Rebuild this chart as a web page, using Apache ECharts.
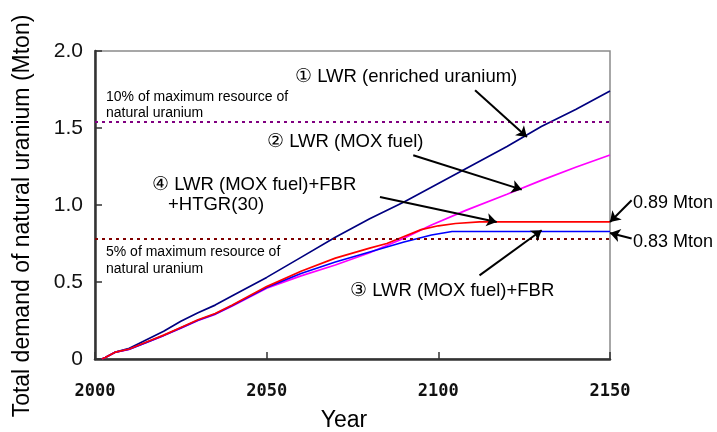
<!DOCTYPE html>
<html><head><meta charset="utf-8">
<script src="https://cdn.jsdelivr.net/npm/echarts@6/dist/echarts.min.js"></script>
<style>html,body{margin:0;padding:0;background:#fff}#c{width:717px;height:432px}</style>
</head><body><div id="c"></div>
<script>
// ---- data ----
const xTicks = [2000, 2050, 2100, 2150];
const yTicks = [0, 0.5, 1.0, 1.5, 2.0];

const enrichedYears = [2002,2003,2006,2010,2015,2020,2025,2030,2035,2040,2050,2060,2070,2080,2090,2100,2110,2120,2130,2140,2150];
const enrichedVals  = [0,0.01,0.045,0.07,0.125,0.18,0.245,0.30,0.35,0.41,0.53,0.66,0.79,0.91,1.02,1.14,1.26,1.38,1.51,1.62,1.74];

const moxYears = [2002,2003,2006,2010,2015,2020,2025,2030,2035,2040,2050,2060,2070,2080,2090,2098,2108,2120,2130,2140,2150];
const moxVals  = [0,0.01,0.045,0.063,0.107,0.152,0.2,0.25,0.29,0.345,0.46,0.54,0.61,0.69,0.785,0.87,0.965,1.07,1.16,1.245,1.325];

const fbrYears = [2002,2003,2006,2010,2015,2020,2025,2030,2035,2040,2050,2060,2070,2080,2090,2098,2104,2150];
const fbrVals  = [0,0.01,0.045,0.064,0.108,0.153,0.202,0.252,0.292,0.347,0.465,0.555,0.63,0.695,0.76,0.805,0.828,0.828];

const htgrYears = [2002,2003,2006,2010,2015,2020,2025,2030,2035,2040,2050,2060,2070,2080,2085,2090,2095,2100,2105,2112,2150];
const htgrVals  = [0,0.01,0.045,0.065,0.11,0.155,0.205,0.255,0.295,0.35,0.47,0.57,0.655,0.72,0.75,0.795,0.84,0.865,0.88,0.89,0.89];

const limit10 = 1.54;
const limit5 = 0.775;

// annotation arrows: [fromYear, fromVal, toYear, toVal]
const arrows = [
  [2110.7, 1.745, 2125.8, 1.442],
  [2092.7, 1.323, 2124.3, 1.100],
  [2083.0, 1.052, 2117.0, 0.890],
  [2112.0, 0.543, 2130.1, 0.836],
  [2156.3, 1.031, 2150.0, 0.890],
  [2156.3, 0.782, 2150.0, 0.818]
];

const labels = {
  s1: '\u2460 LWR (enriched uranium)',
  s2: '\u2461 LWR (MOX fuel)',
  s3: '\u2462 LWR (MOX fuel)+FBR',
  s4a: '\u2463 LWR (MOX fuel)+FBR',
  s4b: '+HTGR(30)',
  m89: '0.89 Mton',
  m83: '0.83 Mton',
  l10a: '10% of maximum resource of',
  l10b: 'natural uranium',
  l5a: '5% of maximum resource of',
  l5b: 'natural uranium',
  xName: 'Year',
  yName: 'Total demand of natural uranium (Mton)'
};

const pairs = (xs, ys) => xs.map((x, i) => [x, ys[i]]);

const chart = echarts.init(document.getElementById('c'), null, {renderer: 'canvas'});
const F = 'Liberation Sans, Arial, sans-serif';
const lineS = (name, xs, ys, color) => ({
  name, type: 'line', data: pairs(xs, ys), symbol: 'none', animation: false,
  lineStyle: {color, width: 1.7}, z: 3
});
const txt = (text, x, y, size) => ({type: 'text', x, y, style: {text, font: size + 'px ' + F, fill: '#000', textVerticalAlign: 'middle'}});

const option = {
  animation: false,
  grid: {left: 95, right: 107, top: 51, bottom: 73, show: true, borderColor: '#8a8a8a', borderWidth: 1.5},
  xAxis: {
    type: 'value', min: xTicks[0], max: xTicks[xTicks.length - 1], interval: 50,
    axisLine: {show: true, onZero: false, lineStyle: {color: '#333', width: 2.5}},
    axisTick: {show: true, inside: true, length: 7, lineStyle: {color: '#333', width: 1.5}},
    axisLabel: {margin: 24, color: '#111', fontFamily: 'DejaVu Sans Mono', fontWeight: 'bold', fontSize: 17,
      formatter: v => xTicks.includes(v) ? String(v) : ''},
    splitLine: {show: false}
  },
  yAxis: {
    type: 'value', min: yTicks[0], max: yTicks[yTicks.length - 1], interval: 0.5,
    axisLine: {show: true, onZero: false, lineStyle: {color: '#333', width: 2.5}},
    axisTick: {show: true, inside: true, length: 7, lineStyle: {color: '#333', width: 1.5}},
    axisLabel: {margin: 12, color: '#111', fontFamily: F, fontSize: 21,
      formatter: v => v === 0 ? '0' : v.toFixed(1)},
    splitLine: {show: false}
  },
  series: [
    lineS('enriched', enrichedYears, enrichedVals, '#000080'),
    lineS('mox', moxYears, moxVals, '#ff00ff'),
    lineS('fbr', fbrYears, fbrVals, '#0000ff'),
    lineS('htgr', htgrYears, htgrVals, '#ff0000'),
    {
      name: 'limits', type: 'line', data: [], symbol: 'none', z: 2,
      markLine: {
        silent: true, symbol: 'none', label: {show: false}, animation: false,
        data: [
          {yAxis: limit10, lineStyle: {color: '#800080', type: [3, 4], width: 2}},
          {yAxis: limit5, lineStyle: {color: '#800000', type: [3, 4], width: 2}}
        ]
      }
    },
    {
      name: 'arrows', type: 'lines', coordinateSystem: 'cartesian2d', clip: false, z: 5,
      symbol: ['none', 'arrow'], symbolSize: 10, silent: true, animation: false,
      lineStyle: {color: '#000', width: 2, opacity: 1, curveness: 0},
      data: arrows.map(a => ({coords: [[a[0], a[1]], [a[2], a[3]]]}))
    }
  ],
  graphic: [
    txt(labels.s1, 295, 77, 18.5),
    txt(labels.s2, 267, 142, 18.5),
    txt(labels.s4a, 152, 185, 18.5),
    txt(labels.s4b, 168, 205, 18.5),
    txt(labels.s3, 350, 291, 18.5),
    txt(labels.m89, 633, 203, 18),
    txt(labels.m83, 633, 242, 18),
    txt(labels.l10a, 106, 97, 14),
    txt(labels.l10b, 106, 113, 14),
    txt(labels.l5a, 106, 252, 14),
    txt(labels.l5b, 106, 269, 14),
    {type: 'text', x: 344, y: 421, style: {text: labels.xName, font: '23px ' + F, fill: '#000', textAlign: 'center', textVerticalAlign: 'middle'}},
    {type: 'text', x: 23, y: 216, rotation: Math.PI / 2, style: {text: labels.yName, font: '23px ' + F, fill: '#000', textAlign: 'center', textVerticalAlign: 'middle'}}
  ]
};
chart.setOption(option);
</script>
</body></html>
